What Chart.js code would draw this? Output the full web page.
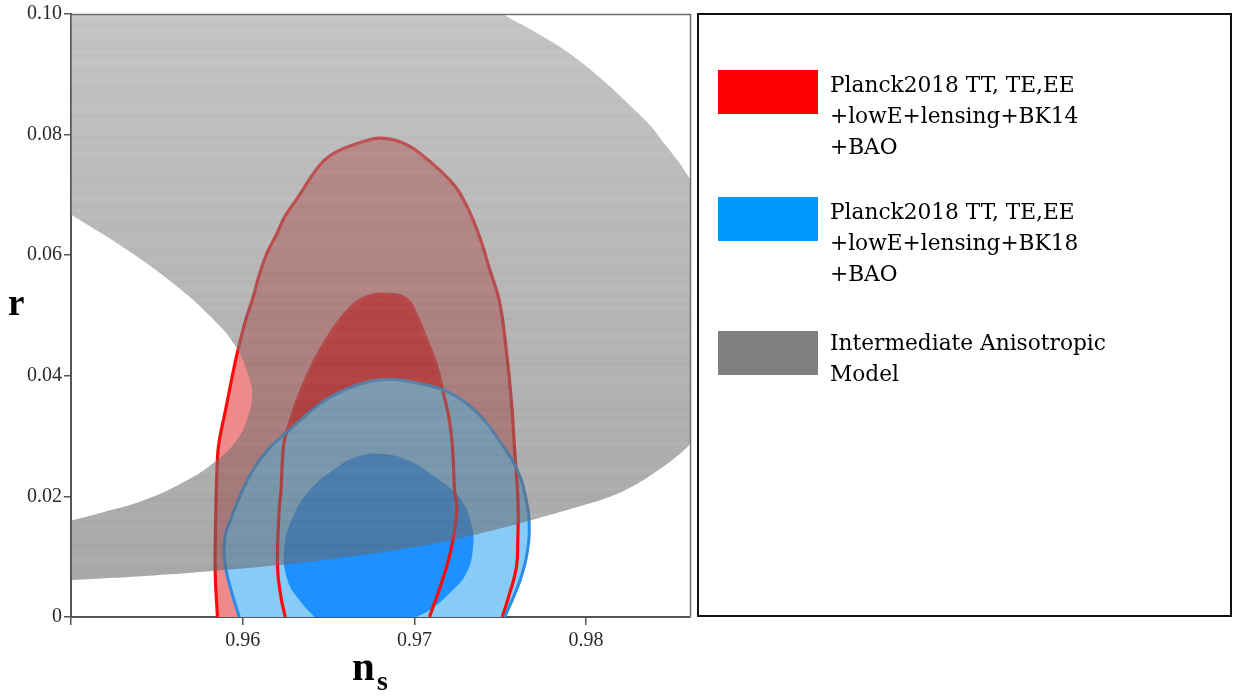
<!DOCTYPE html>
<html>
<head>
<meta charset="utf-8">
<script src="https://cdn.jsdelivr.net/npm/chart.js@4.4.1/dist/chart.umd.min.js"></script>
<style>
  html, body { margin: 0; padding: 0; background: #fff; }
  #wrap { position: relative; width: 1236px; height: 696px; overflow: hidden; background: #fff; }
  #c { position: absolute; left: 0; top: 0; }
  .txt { position: absolute; color: #000; white-space: nowrap; }
  .title { font-family: "Liberation Serif", "Times New Roman", serif; font-weight: bold; }
  #legendBox { position: absolute; left: 697px; top: 13px; width: 535px; height: 604px; border: 2px solid #111; box-sizing: border-box; }
  .swatch { position: absolute; width: 100px; height: 44px; }
  .entry { position: absolute; left: 830px; font-family: "DejaVu Serif", serif; font-size: 21.7px; line-height: 31px; }
  #ylab { left: 8px; top: 284px; font-size: 37px; line-height: 37px; }
  #xlabN { left: 352px; top: 646px; font-size: 41px; line-height: 41px; }
  #xlabS { left: 377px; top: 667px; font-size: 28px; line-height: 28px; }
</style>
</head>
<body>
<div id="wrap">
  <canvas id="c" width="1236" height="696"></canvas>
  <div id="legendBox"></div>
  <div class="txt title" id="ylab">r</div>
  <div class="txt title" id="xlabN">n</div>
  <div class="txt title" id="xlabS">s</div>
</div>
<script>
// ---- axis ticks -------------------------------------------------------
const xTicks = [0.95, 0.96, 0.97, 0.98];
const xTickLabels = ['', '0.96', '0.97', '0.98'];
const yTicks = [0, 0.02, 0.04, 0.06, 0.08, 0.10];
const yTickLabels = ['0', '0.02', '0.04', '0.06', '0.08', '0.10'];

// ---- legend -----------------------------------------------------------
const seriesNames = [
  ['Planck2018 TT, TE,EE', '+lowE+lensing+BK14', '+BAO'],
  ['Planck2018 TT, TE,EE', '+lowE+lensing+BK18', '+BAO'],
  ['Intermediate Anisotropic', 'Model']
];
const legendColors = ['#ff0000', '#0099ff', '#808080'];

// ---- contours [n_s, r] ------------------------------------------------
// BK14 combination, 95% region
const bk14Outer = [
  [0.95853, 0], [0.95840, 0.00725], [0.95844, 0.01812], [0.95853, 0.02636],
  [0.95863, 0.02916], [0.95902, 0.03460], [0.95933, 0.03904], [0.95970, 0.04399],
  [0.96019, 0.04942], [0.96061, 0.05305], [0.96096, 0.05667], [0.96143, 0.06046],
  [0.96194, 0.06326], [0.96245, 0.06640], [0.96300, 0.06870], [0.96350, 0.07084],
  [0.96427, 0.07414], [0.96505, 0.07644], [0.96622, 0.07809], [0.96709, 0.07891],
  [0.96797, 0.07941], [0.96884, 0.07908], [0.96960, 0.07825], [0.97030, 0.07694],
  [0.97146, 0.07414], [0.97240, 0.07130], [0.97295, 0.06870], [0.97341, 0.06590],
  [0.97391, 0.06211], [0.97438, 0.05766], [0.97496, 0.05222], [0.97536, 0.04399],
  [0.97565, 0.03575], [0.97584, 0.02751], [0.97603, 0.01928], [0.97602, 0.01269],
  [0.97594, 0.00824], [0.97555, 0.00395], [0.97512, 0]
];
// BK14 combination, 68% region
const bk14Inner = [
  [0.96248, 0], [0.96223, 0.00329], [0.96203, 0.00824], [0.96213, 0.01812],
  [0.96223, 0.02092], [0.96232, 0.02636], [0.96242, 0.02916], [0.96271, 0.03196],
  [0.96330, 0.03690], [0.96407, 0.04185], [0.96505, 0.04679], [0.96621, 0.05107],
  [0.96719, 0.05305], [0.96835, 0.05354], [0.96952, 0.05272], [0.97011, 0.05008],
  [0.97069, 0.04613], [0.97127, 0.04185], [0.97166, 0.03740], [0.97205, 0.03245],
  [0.97224, 0.02702], [0.97234, 0.02092], [0.97247, 0.01812], [0.97224, 0.01269],
  [0.97176, 0.00725], [0.97088, 0]
];
// BK18 combination, 95% region
const bk18Outer = [
  [0.95980, 0], [0.95921, 0.00560], [0.95892, 0.00988], [0.95898, 0.01351],
  [0.95921, 0.01549], [0.95956, 0.01812], [0.95997, 0.02092], [0.96067, 0.02471],
  [0.96155, 0.02801], [0.96230, 0.02998], [0.96310, 0.03196], [0.96446, 0.03526],
  [0.96602, 0.03773], [0.96738, 0.03904], [0.96872, 0.03937], [0.97030, 0.03871],
  [0.97146, 0.03789], [0.97263, 0.03624], [0.97397, 0.03295], [0.97496, 0.02916],
  [0.97594, 0.02471], [0.97652, 0.01928], [0.97669, 0.01433], [0.97654, 0.01021],
  [0.97625, 0.00692], [0.97594, 0.00445], [0.97526, 0]
];
// BK18 combination, 68% region
const bk18Inner = [
  [0.96417, 0], [0.96330, 0.00280], [0.96261, 0.00610], [0.96242, 0.01153],
  [0.96291, 0.01647], [0.96388, 0.02092], [0.96544, 0.02471], [0.96680, 0.02669],
  [0.96816, 0.02702], [0.96971, 0.02587], [0.97127, 0.02306], [0.97263, 0.01977],
  [0.97331, 0.01549], [0.97341, 0.01153], [0.97302, 0.00725], [0.97205, 0.00395],
  [0.97088, 0.00115], [0.97011, 0]
];
// intermediate anisotropic model band: lower edge, outer edge, then inner edge
const anisoBand = [
  [0.9450, 0.0052], [0.9472, 0.0057], [0.94994, 0.00610], [0.95455, 0.00684],
  [0.95805, 0.00758], [0.96195, 0.00857], [0.96563, 0.00980], [0.96913, 0.01120],
  [0.97205, 0.01269], [0.97497, 0.01466], [0.97730, 0.01647], [0.97964, 0.01837],
  [0.98121, 0.01977], [0.98285, 0.02191], [0.98413, 0.02422], [0.98523, 0.02652],
  [0.98622, 0.02916], [0.98751, 0.03328], [0.98856, 0.03740], [0.98926, 0.04152],
  [0.98943, 0.04563], [0.98908, 0.05058], [0.98873, 0.05552], [0.98827, 0.06046],
  [0.98768, 0.06458], [0.98693, 0.06870], [0.98609, 0.07249], [0.98535, 0.07562],
  [0.98454, 0.07858], [0.98372, 0.08155], [0.98261, 0.08468], [0.98080, 0.08946],
  [0.97905, 0.09341], [0.97701, 0.09704], [0.97514, 0.10000], [0.97380, 0.10247],
  [0.96913, 0.10494], [0.94930, 0.10494], [0.9450, 0.0760], [0.9475, 0.0713],
  [0.94998, 0.06677], [0.95319, 0.06101], [0.95610, 0.05498], [0.95805, 0.05003],
  [0.95960, 0.04481], [0.96038, 0.03959], [0.96054, 0.03685], [0.96028, 0.03300],
  [0.95960, 0.02916], [0.95844, 0.02587], [0.95669, 0.02257], [0.95415, 0.01928],
  [0.95182, 0.01735], [0.94998, 0.01598], [0.9475, 0.0141], [0.9450, 0.0132]
];

// ---- helpers ----------------------------------------------------------
const pts = arr => arr.map(([x, y]) => ({ x, y }));

// translucent grey wash with faint horizontal banding, darker toward the bottom
function bandFill(context) {
  const chart = context.chart;
  const a = chart.chartArea;
  if (!a) return 'rgba(122,122,122,0.565)';
  const g = chart.ctx.createLinearGradient(0, a.top, 0, a.bottom);
  const ripple = [0, 4, 1, -3, 2, -1, 3, -2, 0, -4, 2, -2];
  const n = 160;
  for (let i = 0; i <= n; i++) {
    const t = i / n;
    const c = Math.round(150 - 52 * t + ripple[i % ripple.length] * 1.6);
    g.addColorStop(t, `rgba(${c},${c},${c},0.565)`);
  }
  return g;
}

const common = { showLine: true, pointRadius: 0, pointHoverRadius: 0 };

function region(data, color, order) {
  return Object.assign({}, common, {
    data: pts(data), fill: 'shape', backgroundColor: color,
    borderWidth: 0, borderColor: 'rgba(0,0,0,0)', order
  });
}
function outline(data, color, width, order) {
  return Object.assign({}, common, {
    data: pts(data), fill: false, borderColor: color, borderWidth: width, order
  });
}

const plotFrame = {
  id: 'plotFrame',
  afterDraw(chart) {
    const { ctx, chartArea: a } = chart;
    ctx.save();
    ctx.strokeStyle = '#6f6f6f';
    ctx.lineWidth = 1.5;
    ctx.beginPath();
    ctx.moveTo(a.left, a.top + 0.5);
    ctx.lineTo(a.right + 0.5, a.top + 0.5);
    ctx.lineTo(a.right + 0.5, a.bottom);
    ctx.stroke();
    ctx.restore();
  }
};

const tickFont = { family: 'Liberation Serif', size: 20 };

new Chart(document.getElementById('c'), {
  type: 'scatter',
  data: {
    datasets: [
      Object.assign({}, common, {
        label: seriesNames[2].join(' '), data: pts(anisoBand), fill: 'shape',
        backgroundColor: bandFill, borderWidth: 0, borderColor: 'rgba(0,0,0,0)',
        order: 0
      }),
      outline(bk18Outer, '#2b8ce6', 3, 1),
      outline(bk14Outer, '#ff0a0a', 3.2, 2),
      outline(bk14Inner, '#ff0a0a', 3.2, 2),
      region(bk18Inner, '#1e90ff', 3),
      region(bk18Outer, '#87cbf7', 4),
      region(bk14Inner, '#ff0000', 5),
      region(bk14Outer, '#f08a8a', 6)
    ]
  },
  options: {
    responsive: false,
    animation: false,
    events: [],
    elements: { line: { tension: 0.45, cubicInterpolationMode: 'default', capBezierPoints: false } },
    layout: { padding: { left: 0, top: 10, right: 1236 - 690, bottom: 0 } },
    plugins: { legend: { display: false }, tooltip: { enabled: false } },
    scales: {
      x: {
        type: 'linear', min: 0.95, max: 0.98605,
        afterBuildTicks: s => { s.ticks = xTicks.map(v => ({ value: v })); },
        afterFit: s => { s.height = 79; },
        grid: { drawOnChartArea: false, drawTicks: true, tickLength: 8, color: '#555', lineWidth: 1.5 },
        border: { display: true, color: '#555', width: 2 },
        ticks: { callback: (v, i) => xTickLabels[i], font: tickFont, color: '#2a2a2a', padding: 4, maxRotation: 0, autoSkip: false }
      },
      y: {
        type: 'linear', min: 0, max: 0.1,
        afterBuildTicks: s => { s.ticks = yTicks.map(v => ({ value: v })); },
        afterFit: s => { s.width = 71; },
        grid: { drawOnChartArea: false, drawTicks: true, tickLength: 7, color: '#555', lineWidth: 1.5 },
        border: { display: true, color: '#555', width: 2 },
        ticks: { callback: (v, i) => yTickLabels[i], font: tickFont, color: '#2a2a2a', padding: 2, autoSkip: false }
      }
    }
  },
  plugins: [plotFrame]
});

// ---- legend panel -----------------------------------------------------
const wrap = document.getElementById('wrap');
const swatchTops = [70, 197, 331];
const textTops = [69, 196, 327];
seriesNames.forEach((lines, i) => {
  const sw = document.createElement('div');
  sw.className = 'swatch';
  sw.style.left = '718px';
  sw.style.top = swatchTops[i] + 'px';
  sw.style.background = legendColors[i];
  wrap.appendChild(sw);
  const t = document.createElement('div');
  t.className = 'txt entry';
  t.style.top = textTops[i] + 'px';
  t.innerHTML = lines.join('<br>');
  wrap.appendChild(t);
});
</script>
</body>
</html>
